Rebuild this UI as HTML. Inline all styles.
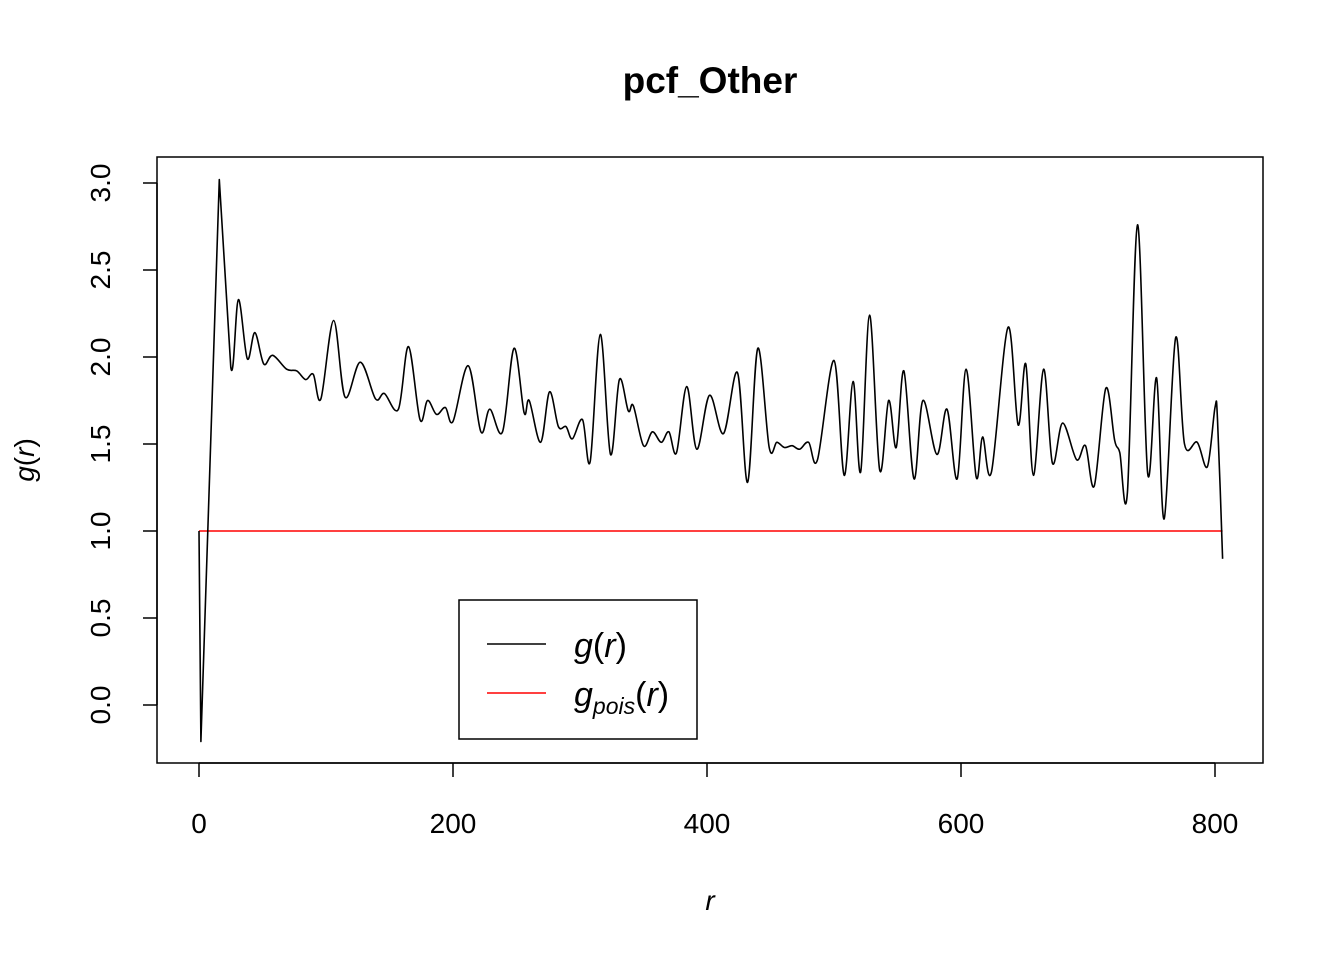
<!DOCTYPE html>
<html><head><meta charset="utf-8">
<style>
html,body{margin:0;padding:0;background:#fff;}
svg{display:block;font-family:"Liberation Sans",Arial,sans-serif;}
</style></head>
<body>
<svg id="chart" width="1344" height="960" viewBox="0 0 1344 960">
  <text x="710" y="93" text-anchor="middle" font-size="37" font-weight="bold">pcf_Other</text>
  <rect x="157" y="157" width="1106" height="606" fill="none" stroke="#000" stroke-width="1.5"/>
  <g id="xaxis"></g>
  <g id="yaxis"></g>
  <text x="710" y="910" text-anchor="middle" font-size="28" font-style="italic">r</text>
  <text transform="translate(34,460) rotate(-90)" text-anchor="middle" font-size="28"><tspan font-style="italic">g</tspan>(<tspan font-style="italic">r</tspan>)</text>
  <g id="series"></g>
  <g>
    <rect x="459" y="600" width="238" height="139" fill="#fff" stroke="#000" stroke-width="1.5"/>
    <line x1="487" y1="644" x2="546" y2="644" stroke="#000" stroke-width="1.5"/>
    <text x="574" y="657" font-size="34"><tspan font-style="italic">g</tspan>(<tspan font-style="italic">r</tspan>)</text>
    <line x1="487" y1="693" x2="546" y2="693" stroke="#ff0000" stroke-width="1.5"/>
    <text x="574" y="706" font-size="34"><tspan font-style="italic">g</tspan><tspan font-style="italic" font-size="23" dy="8">pois</tspan><tspan dy="-8">(</tspan><tspan font-style="italic">r</tspan>)</text>
  </g>
</svg>
<script>
const xTicks = [0, 200, 400, 600, 800];
const yTicks = [0.0, 0.5, 1.0, 1.5, 2.0, 2.5, 3.0];
const yTickLabels = ["0.0", "0.5", "1.0", "1.5", "2.0", "2.5", "3.0"];
const rVals = [0,1.5,16,25,31,38,44,51,58,69,77,84,90,96,106,115,127,139,146,157,165,174,180,187,194,200,212,222,229,239,248,256,260,269,276,283,289,294,302,308,316,324,331,338,342,350,357,364,370,376,384,392,402,413,424,432,440,449,455,461,467,473,480,487,500,508,515,521,528,536,543,549,555,563,570,581,589,597,604,612,617,624,637,645,651,657,665,672,680,691,698,705,714,721,725,731,739,747,754,760,769,776,786,794,800,802,806];
const gVals = [1.0,-0.21,3.02,1.94,2.33,1.99,2.14,1.96,2.01,1.93,1.92,1.87,1.90,1.76,2.21,1.77,1.97,1.76,1.79,1.70,2.06,1.64,1.75,1.67,1.71,1.63,1.95,1.57,1.70,1.57,2.05,1.68,1.75,1.51,1.80,1.60,1.60,1.53,1.64,1.40,2.13,1.44,1.87,1.69,1.72,1.49,1.57,1.51,1.57,1.45,1.83,1.47,1.78,1.56,1.91,1.28,2.05,1.48,1.51,1.48,1.49,1.47,1.51,1.41,1.98,1.32,1.86,1.34,2.24,1.35,1.75,1.48,1.92,1.30,1.75,1.44,1.70,1.30,1.93,1.31,1.54,1.34,2.17,1.61,1.96,1.32,1.93,1.39,1.62,1.41,1.49,1.26,1.82,1.52,1.45,1.22,2.76,1.33,1.88,1.07,2.11,1.50,1.51,1.37,1.71,1.64,0.84];
const poisR = [0, 806];
const poisG = [1.0, 1.0];

const NS = "http://www.w3.org/2000/svg";
function xs(r){ return 199 + (r / 800) * (1215 - 199); }
function ys(g){ return 705 - g * 174; }
function mk(tag, attrs, parent){
  const el = document.createElementNS(NS, tag);
  for (const k in attrs) el.setAttribute(k, attrs[k]);
  parent.appendChild(el);
  return el;
}
const xa = document.getElementById('xaxis');
const ya = document.getElementById('yaxis');
const ser = document.getElementById('series');

const xl = mk('line', {x1: xs(xTicks[0]), x2: xs(xTicks[xTicks.length-1]), y1: 763, y2: 763, stroke: '#000', 'stroke-width': 1.5}, xa);


xTicks.forEach(t => {
  const tk = mk('line', {x1: xs(t), x2: xs(t), y1: 763, y2: 777, stroke: '#000', 'stroke-width': 1.5}, xa);
  
  
  const tx = mk('text', {x: xs(t), y: 833, 'text-anchor': 'middle', 'font-size': 28}, xa);
  tx.textContent = String(t);
  
  
});
const yl = mk('line', {x1: 157, x2: 157, y1: ys(yTicks[0]), y2: ys(yTicks[yTicks.length-1]), stroke: '#000', 'stroke-width': 1.5}, ya);


yTicks.forEach((t, i) => {
  const tk = mk('line', {x1: 143, x2: 157, y1: ys(t), y2: ys(t), stroke: '#000', 'stroke-width': 1.5}, ya);
  
  
  const tx = mk('text', {transform: 'translate(110,' + ys(t) + ') rotate(-90)', 'text-anchor': 'middle', 'font-size': 28}, ya);
  tx.textContent = yTickLabels[i];
  
  
});

const pl = mk('polyline', {points: poisR.map((r, i) => xs(r) + ',' + ys(poisG[i])).join(' '), fill: 'none', stroke: '#ff0000', 'stroke-width': 1.6}, ser);



const P = rVals.map((r, i) => [xs(r), ys(gVals[i])]);
let d = 'M' + P[0][0] + ',' + P[0][1];
for (let i = 0; i < P.length - 1; i++) {
  const p0 = P[Math.max(0, i-1)], p1 = P[i], p2 = P[i+1], p3 = P[Math.min(P.length-1, i+2)];
  const k = (i < 3) ? 0 : 1/6;
  const c1 = [p1[0] + (p2[0]-p0[0])*k, p1[1] + (p2[1]-p0[1])*k];
  const c2 = [p2[0] - (p3[0]-p1[0])*k, p2[1] - (p3[1]-p1[1])*k];
  d += ' C' + c1[0].toFixed(1) + ',' + c1[1].toFixed(1) + ' ' + c2[0].toFixed(1) + ',' + c2[1].toFixed(1) + ' ' + p2[0].toFixed(1) + ',' + p2[1].toFixed(1);
}
const gl = mk('path', {d: d, fill: 'none', stroke: '#000', 'stroke-width': 1.6, 'stroke-linejoin': 'round'}, ser);


</script>
</body></html>
